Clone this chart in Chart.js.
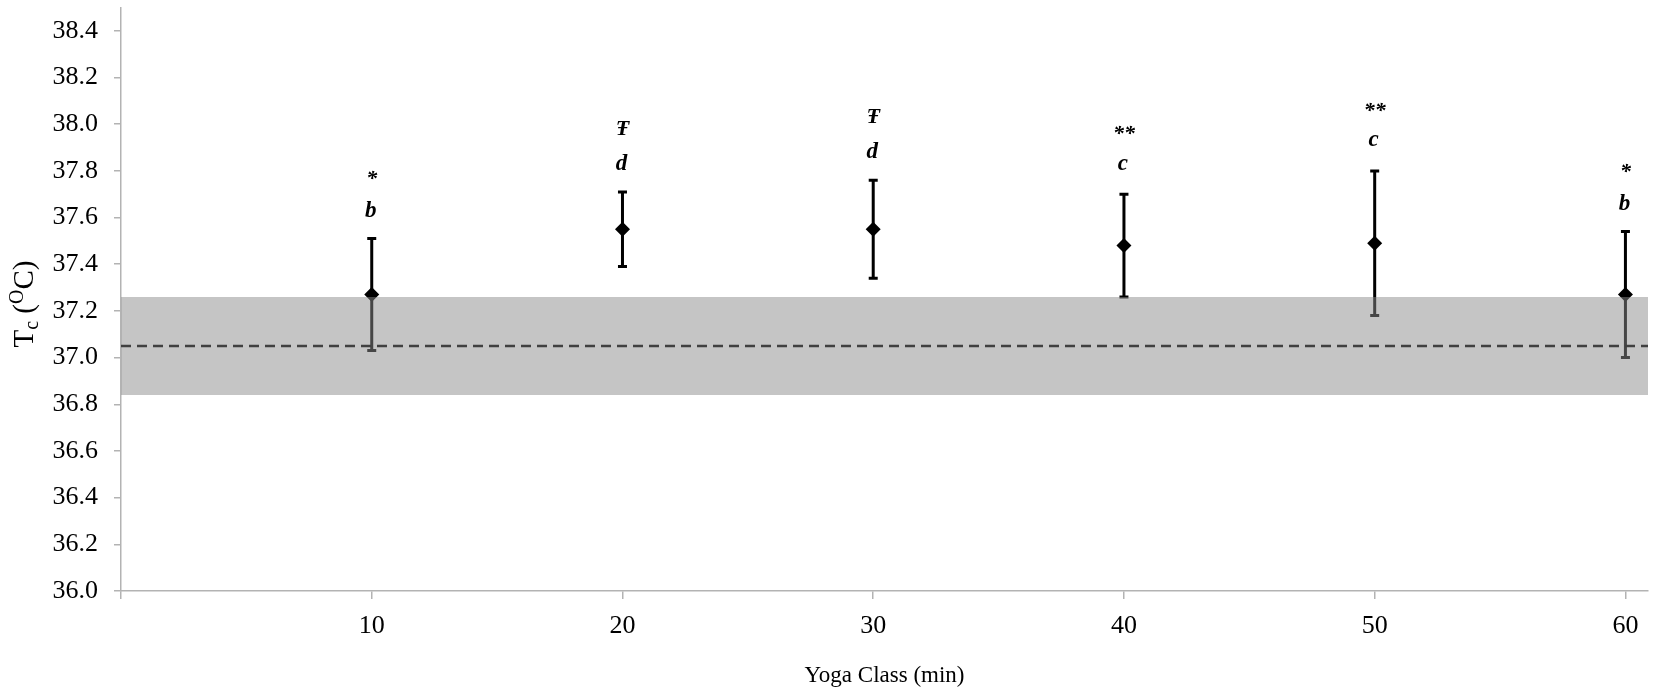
<!DOCTYPE html>
<html>
<head>
<meta charset="utf-8">
<script src="https://cdn.jsdelivr.net/npm/chart.js@4.4.1/dist/chart.umd.min.js"></script>
<style>
  body { margin: 0; background: #fff; }
  canvas { display: block; }
</style>
</head>
<body>
<canvas id="tcChart" width="1656" height="700"></canvas>
<script>
// Dados: temperatura central durante a aula de yoga
const minutos = [10, 20, 30, 40, 50, 60];
const tcMedia = [37.27, 37.55, 37.55, 37.48, 37.49, 37.27];
const tcDP = [0.24, 0.16, 0.21, 0.22, 0.31, 0.27];
const simbolos = ['*', 'Ŧ', 'Ŧ', '**', '**', '*'];
const letras = ['b', 'd', 'd', 'c', 'c', 'b'];

// Repouso (linha tracejada + faixa cinza = média ± DP)
const repousoMedia = 37.05;
const repousoDP = 0.21;

const xMin = 0, xMax = 60.9;
const yMin = 36.0, yMax = 38.5;
const xTicks = [0, 10, 20, 30, 40, 50, 60];
const yTicks = [36.0, 36.2, 36.4, 36.6, 36.8, 37.0, 37.2, 37.4, 37.6, 37.8, 38.0, 38.2, 38.4];

const fonte = '"Liberation Serif", "Times New Roman", serif';
const cinzaEixo = '#b3b3b3';

// Barras de erro (desenhadas antes dos losangos)
const barrasErro = {
  id: 'barrasErro',
  beforeDatasetDraw(chart, args) {
    if (args.index !== 0) return;
    const { ctx, scales: { x, y } } = chart;
    ctx.save();
    ctx.strokeStyle = '#000';
    ctx.lineWidth = 3;
    minutos.forEach((m, i) => {
      const px = x.getPixelForValue(m);
      const topo = y.getPixelForValue(tcMedia[i] + tcDP[i]);
      const base = y.getPixelForValue(tcMedia[i] - tcDP[i]);
      ctx.beginPath();
      ctx.moveTo(px, topo); ctx.lineTo(px, base);
      ctx.moveTo(px - 4.5, topo); ctx.lineTo(px + 4.5, topo);
      ctx.moveTo(px - 4.5, base); ctx.lineTo(px + 4.5, base);
      ctx.stroke();
    });
    ctx.restore();
  }
};

function textoCentrado(ctx, txt, cx, cy) {
  const m = ctx.measureText(txt);
  ctx.fillText(txt, cx, cy + (m.actualBoundingBoxAscent - m.actualBoundingBoxDescent) / 2);
}

// Letras e símbolos de significância acima de cada ponto
const anotacoes = {
  id: 'anotacoes',
  afterDatasetsDraw(chart) {
    const { ctx, scales: { x, y } } = chart;
    ctx.save();
    ctx.fillStyle = '#000';
    ctx.textAlign = 'center';
    ctx.textBaseline = 'alphabetic';
    minutos.forEach((m, i) => {
      const px = x.getPixelForValue(m);
      const topo = y.getPixelForValue(tcMedia[i] + tcDP[i]);
      ctx.font = 'italic bold 23px ' + fonte;
      textoCentrado(ctx, letras[i], px - 1, topo - 30);
      ctx.font = 'italic bold 22px ' + fonte;
      textoCentrado(ctx, simbolos[i], px, topo - 64);
    });
    ctx.restore();
  }
};

// Título do eixo Y com subscrito e sobrescrito
const tituloY = {
  id: 'tituloY',
  afterDraw(chart) {
    const ctx = chart.ctx;
    const partes = [
      { t: 'T', s: 29, dy: 0 },
      { t: 'c', s: 20, dy: 5 },
      { t: ' (', s: 29, dy: 0 },
      { t: 'O', s: 20, dy: -10 },
      { t: 'C)', s: 29, dy: 0 }
    ];
    ctx.save();
    ctx.translate(23, 304);
    ctx.rotate(-Math.PI / 2);
    ctx.fillStyle = '#000';
    ctx.textBaseline = 'alphabetic';
    ctx.textAlign = 'left';
    let total = 0;
    partes.forEach(p => { ctx.font = p.s + 'px ' + fonte; p.w = ctx.measureText(p.t).width; total += p.w; });
    let px = -total / 2;
    partes.forEach(p => {
      ctx.font = p.s + 'px ' + fonte;
      ctx.fillText(p.t, px, 10 + p.dy);
      px += p.w;
    });
    ctx.restore();
  }
};

const ctx = document.getElementById('tcChart').getContext('2d');
new Chart(ctx, {
  type: 'scatter',
  data: {
    datasets: [
      {
        label: 'Tc',
        data: minutos.map((m, i) => ({ x: m, y: tcMedia[i] })),
        pointStyle: 'rectRot',
        pointRadius: 7.5,
        backgroundColor: '#000',
        borderColor: '#000',
        borderWidth: 0,
        order: 3
      },
      {
        type: 'line',
        label: 'inferior',
        data: [{ x: xMin, y: repousoMedia - repousoDP }, { x: xMax, y: repousoMedia - repousoDP }],
        borderWidth: 0,
        pointRadius: 0,
        fill: false,
        order: 2
      },
      {
        type: 'line',
        label: 'faixa',
        data: [{ x: xMin, y: repousoMedia + repousoDP }, { x: xMax, y: repousoMedia + repousoDP }],
        borderWidth: 0,
        pointRadius: 0,
        backgroundColor: 'rgba(140, 140, 140, 0.5)',
        fill: '-1',
        order: 1
      },
      {
        type: 'line',
        label: 'repouso',
        data: [{ x: xMin, y: repousoMedia }, { x: xMax, y: repousoMedia }],
        borderColor: '#404040',
        borderWidth: 2.5,
        borderDash: [10, 6],
        pointRadius: 0,
        fill: false,
        order: 0
      }
    ]
  },
  options: {
    responsive: false,
    animation: false,
    layout: { padding: { top: 7, right: 8, left: 0, bottom: 0 } },
    plugins: {
      legend: { display: false },
      tooltip: { enabled: false }
    },
    scales: {
      x: {
        type: 'linear',
        min: xMin,
        max: xMax,
        afterBuildTicks: s => { s.ticks = xTicks.map(v => ({ value: v })); },
        afterFit: s => { s.height = 109; s.paddingLeft = 0; s.paddingRight = 0; },
        border: { color: cinzaEixo, width: 1.5 },
        grid: { drawOnChartArea: false, drawTicks: true, tickLength: 8, color: cinzaEixo, lineWidth: 1.5 },
        ticks: {
          padding: 12,
          color: '#000',
          font: { family: fonte, size: 26 },
          callback: v => v === 0 ? '' : v
        },
        title: {
          display: true,
          text: 'Yoga Class (min)',
          color: '#000',
          font: { family: fonte, size: 23 },
          padding: { top: 0, bottom: 10 }
        }
      },
      y: {
        min: yMin,
        max: yMax,
        afterBuildTicks: s => { s.ticks = yTicks.map(v => ({ value: v })); },
        afterFit: s => { s.width = 121; s.paddingTop = 0; s.paddingBottom = 0; },
        border: { color: cinzaEixo, width: 1.5 },
        grid: { drawOnChartArea: false, drawTicks: true, tickLength: 7, color: cinzaEixo, lineWidth: 1.5 },
        ticks: {
          padding: 16,
          color: '#000',
          font: { family: fonte, size: 26 },
          callback: v => v.toFixed(1)
        }
      }
    }
  },
  plugins: [barrasErro, anotacoes, tituloY]
});
</script>
</body>
</html>
